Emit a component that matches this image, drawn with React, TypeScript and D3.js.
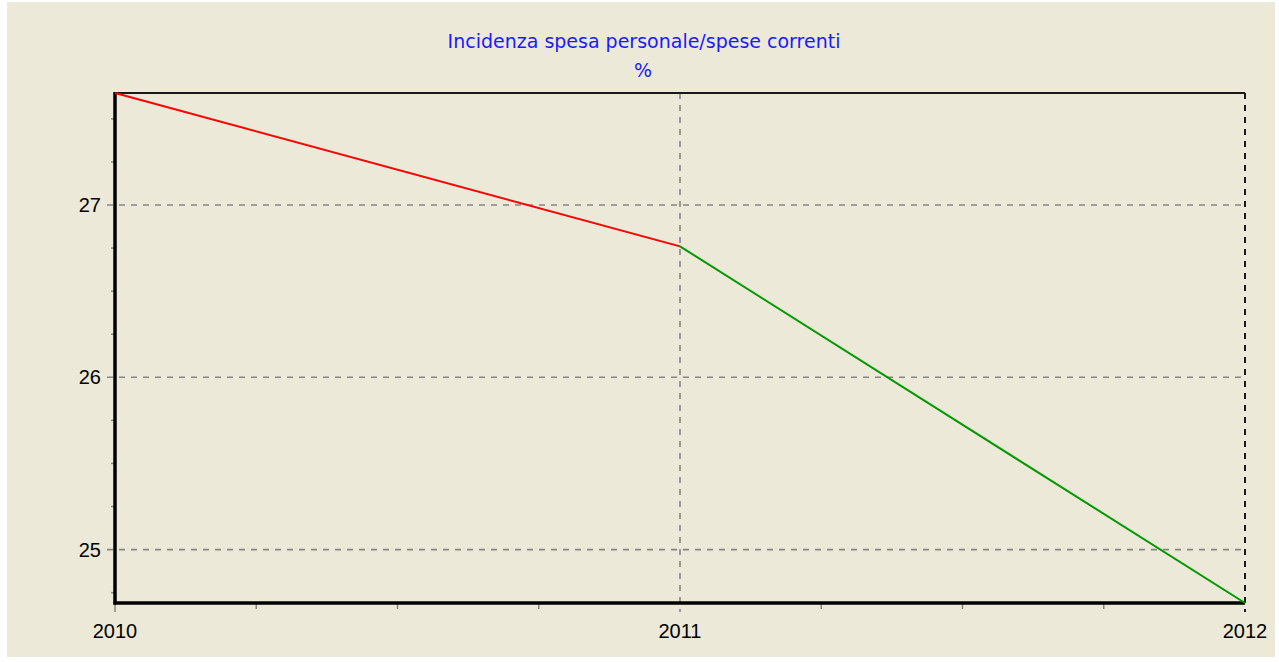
import React from "react";
import * as d3 from "d3";

const years = [2010, 2011, 2012];
const values = [27.65, 26.76, 24.69];
const segmentColors = ["#ff0000", "#009a00"];
const yTicks = [25, 26, 27];
const title = "Incidenza spesa personale/spese correnti";
const subtitle = "%";

const W = 1279;
const H = 662;
const M = { left: 115, right: 1245, top: 93, bottom: 603 };

export default function App() {
  const x = d3.scaleLinear().domain([2010, 2012]).range([M.left, M.right]);
  const yMin = d3.min(values) as number;
  const yMax = d3.max(values) as number;
  const y = d3.scaleLinear().domain([yMin, yMax]).range([M.bottom, M.top]);

  const xMinor = d3.range(2010, 2012.0001, 0.25).filter((v) => Math.abs(v - Math.round(v)) > 1e-6);
  const yMinor = d3
    .range(Math.ceil(yMin * 4) / 4, yMax, 0.25)
    .filter((v) => Math.abs(v - Math.round(v)) > 1e-6);

  const line = d3
    .line<[number, number]>()
    .x((d) => x(d[0]))
    .y((d) => y(d[1]));

  const segments = years.slice(0, -1).map((yr, i) => ({
    d: line([
      [yr, values[i]],
      [years[i + 1], values[i + 1]],
    ]) as string,
    color: segmentColors[i % segmentColors.length],
  }));

  const font = "'Liberation Sans', Arial, sans-serif";
  const titleFont = "'DejaVu Sans', Verdana, sans-serif";

  return (
    <svg
      width={W}
      height={H}
      style={{ position: "absolute", left: 0, top: 0 }}
      fontFamily={font}
    >
      <rect x={0} y={0} width={W} height={H} fill="#ffffff" />
      <rect x={7} y={2} width={1268} height={655} fill="#ece9d8" />

      <text x={644} y={48} textAnchor="middle" fill="#1a1aff" fontSize={19} fontFamily={titleFont}>
        {title}
      </text>
      <text x={643} y={77} textAnchor="middle" fill="#1a1aff" fontSize={19} fontFamily={titleFont}>
        {subtitle}
      </text>

      {/* horizontal grid */}
      {yTicks.map((t) => (
        <line
          key={"hg" + t}
          x1={M.left - 8}
          x2={M.right}
          y1={y(t)}
          y2={y(t)}
          stroke="#858585"
          strokeWidth={1.6}
          strokeDasharray="6,6"
        />
      ))}
      {/* vertical grid */}
      {years.slice(1).map((yr, i) => (
        <line
          key={"vg" + yr}
          x1={x(yr)}
          x2={x(yr)}
          y1={M.top}
          y2={M.bottom + 9}
          stroke={i === years.length - 2 ? "#1a1a1a" : "#858585"}
          strokeWidth={i === years.length - 2 ? 2 : 1.6}
          strokeDasharray="6,6"
        />
      ))}

      {/* minor ticks */}
      {xMinor.map((v) => (
        <line
          key={"xm" + v}
          x1={x(v)}
          x2={x(v)}
          y1={M.bottom}
          y2={M.bottom + 6}
          stroke="#858585"
          strokeWidth={1.5}
        />
      ))}
      {yMinor.map((v) => (
        <line
          key={"ym" + v}
          x1={M.left - 4}
          x2={M.left}
          y1={y(v)}
          y2={y(v)}
          stroke="#858585"
          strokeWidth={1.5}
        />
      ))}
      <line x1={x(2010)} x2={x(2010)} y1={M.bottom} y2={M.bottom + 9} stroke="#858585" strokeWidth={1.5} />

      {/* frame */}
      <line x1={M.left} x2={M.right} y1={M.top} y2={M.top} stroke="#1a1a1a" strokeWidth={2} />
      <line x1={M.left} x2={M.left} y1={M.top - 1} y2={M.bottom + 1.5} stroke="#000" strokeWidth={3.5} />
      <line x1={M.left - 1.5} x2={M.right} y1={M.bottom} y2={M.bottom} stroke="#000" strokeWidth={3.5} />

      {segments.map((s, i) => (
        <path key={"s" + i} d={s.d} fill="none" stroke={s.color} strokeWidth={2} />
      ))}

      {yTicks.map((t) => (
        <text
          key={"yl" + t}
          x={M.left - 14}
          y={y(t)}
          dy="0.35em"
          textAnchor="end"
          fontSize={20}
          fill="#000"
        >
          {t}
        </text>
      ))}
      {years.map((yr) => (
        <text key={"xl" + yr} x={x(yr)} y={638} textAnchor="middle" fontSize={20} fill="#000">
          {yr}
        </text>
      ))}
    </svg>
  );
}
